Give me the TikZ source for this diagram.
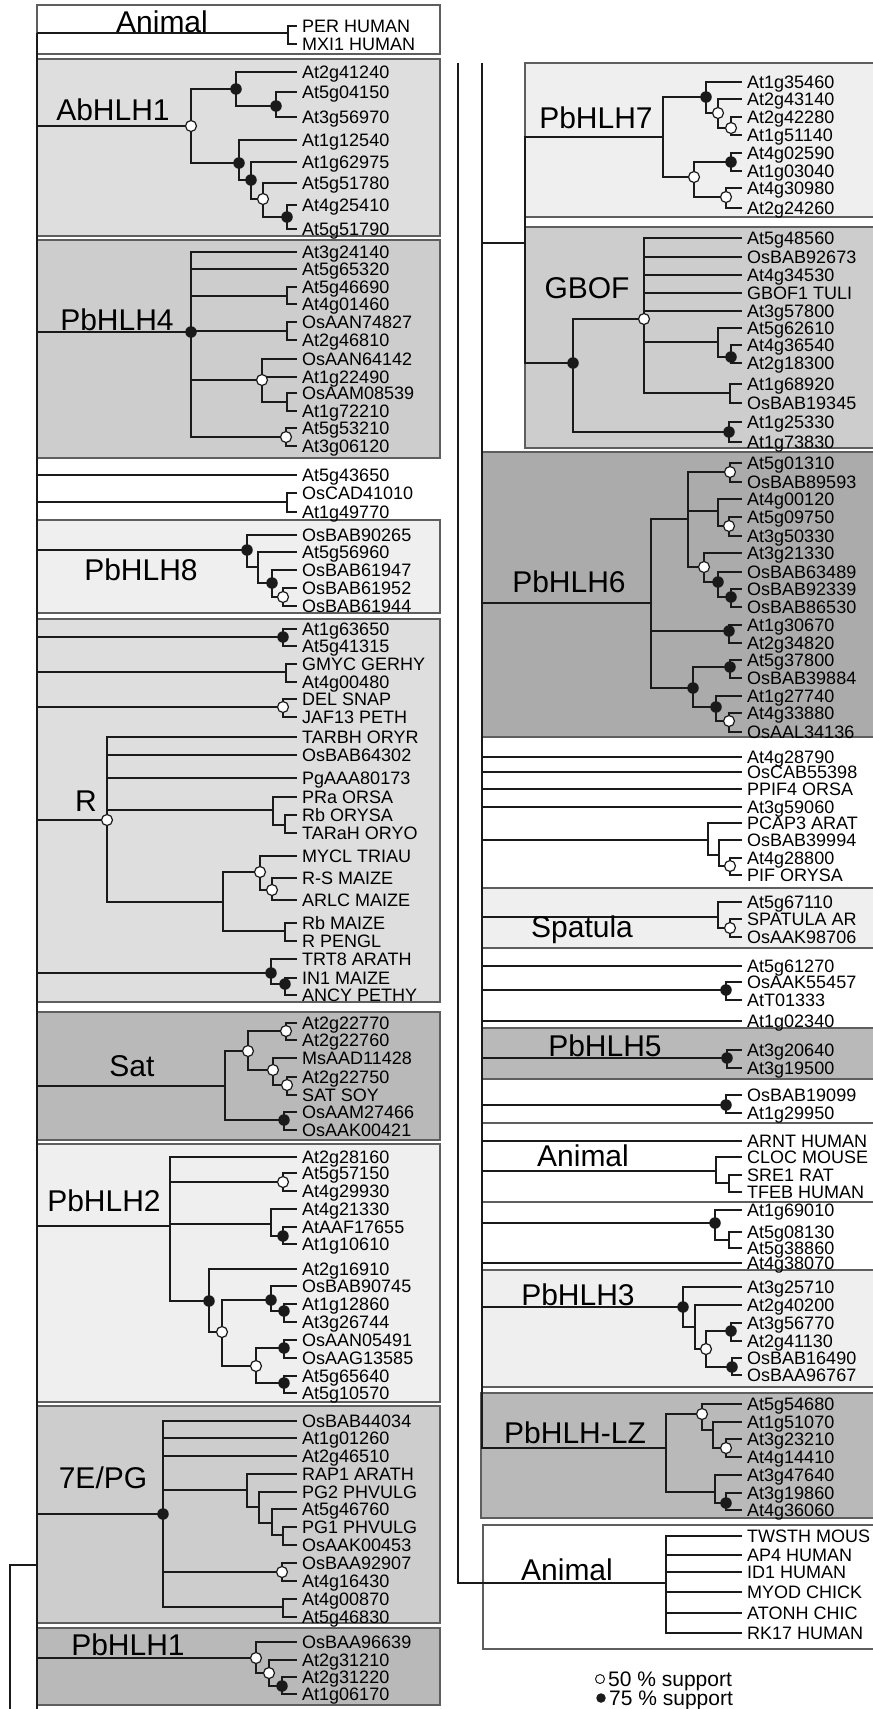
\documentclass[tikz,border=0pt]{standalone}
\usepackage{fontspec}
\setmainfont{Liberation Sans}
\usetikzlibrary{positioning}
\definecolor{BHLine}{HTML}{1A1A1A}
\definecolor{BHFrame}{HTML}{5E5E5E}
\definecolor{BHPale}{HTML}{EFEFEF}
\definecolor{BHLight}{HTML}{DEDEDE}
\definecolor{BHMid}{HTML}{CDCDCD}
\definecolor{BHDark}{HTML}{B9B9B9}
\definecolor{BHDeep}{HTML}{ABABAB}
\newcommand{\leaffont}{\fontsize{18}{18}\selectfont}
\newcommand{\cladefont}{\fontsize{30}{30}\selectfont}
\newcommand{\keyfont}{\fontsize{21}{21}\selectfont}
\tikzset{
branch/.style={line width=1.9pt, draw=BHLine},
joint/.style={inner sep=0pt, minimum size=0pt},
cladebox/.style={draw=BHFrame, line width=1.2pt},
leaflab/.style={anchor=west, inner xsep=5pt, inner ysep=0pt, text height=12.5pt,
  text depth=0pt, font=\leaffont},
cladelab/.style={anchor=base, inner sep=0pt, font=\cladefont},
keylab/.style={anchor=west, inner sep=0pt, text height=15pt, text depth=0pt, font=\keyfont},
sup50/.style={circle, draw=BHLine, fill=white, line width=1.2pt, minimum size=11pt, inner sep=0pt},
sup75/.style={circle, fill=BHLine, minimum size=11.5pt, inner sep=0pt}
}

\begin{document}
\begin{tikzpicture}[x=1pt, y=-1pt]
\useasboundingbox (0,0) rectangle (873,1709);
% clade boxes
\foreach \c/\xa/\ya/\xb/\yb in {white/37/5/440/54, BHLight/37/59/440/236, BHMid/37/240/440/458,
  BHPale/37/520/440/613, BHLight/37/619/440/1002, BHDark/37/1012/440/1140, BHPale/37/1144/440/1402,
  BHMid/37/1406/440/1623, BHDark/37/1628/440/1705,
  BHPale/525/63/876/217, BHMid/525/227/876/448, BHDeep/482/452/876/737, BHPale/482/888/876/948,
  BHDark/482/1028/876/1079, white/482/1123/876/1202, BHPale/482/1270/876/1387,
  BHDark/481/1393/876/1518, white/483/1525/876/1649}
\filldraw[cladebox, fill=\c] (\xa,\ya) rectangle (\xb,\yb);

% inner joints
\foreach \n/\x/\y in {Lsp/37/33, Lend/37/1709, Ljn/37/1565, rt/10/1709, an1/288/33,
  ab0/191/126, ab1/236/89, ab2/276/106, ab3/239/163, ab4/251/180, ab5/263/199, ab6/287/217,
  p4/191/332, p4a/287/296, p4b/287/331, p4c/262/380, p4d/287/402, p4e/286/437, sg1/287/502,
  p8/247/550, p8a/258/567, p8b/272/583, p8c/283/597,
  r1/283/637, r2/286/672, r3/283/707, r0/107/820, r4/273/810, r5/285/825, r6/223/902,
  r7/260/872, r8/272/890, r9/285/931, r10/271/973, r11/285/984,
  s0/225/1086, s1/248/1051, s2/286/1031, s3/273/1070, s5/287/1085, s4/284/1120,
  q0/170/1226, q1/283/1182, q2/271/1224, q3/283/1236, q4/209/1301, q5/222/1332, q6/271/1300,
  q7/284/1311, q8/256/1366, q9/284/1348, q10/284/1383,
  e0/163/1514, e1/247/1490, e2/259/1507, e3/272/1523, e6/283/1535, e4/282/1572, e5/283/1607,
  h0/256/1658, h1/269/1673, h2/282/1686}
\node[joint] (\n) at (\x,\y) {};
\foreach \n/\x/\y in {Rout/458/63, Rsp/482/63,
  pg/525/243, p7/663/137, p7a/706/97, p7b/718/113, p7c/731/128, p7d/694/177, p7e/731/162, p7f/726/197,
  gb/573/363, g1/644/319, g2/718/342, g5/731/357, g3/730/393, g4/729/432,
  x0/651/603, x1/688/519, x2/730/472, x3/718/511, x4/729/526, x5/704/567, x6/718/582, x12/731/597,
  x7/729/631, x8/693/688, x9/730/667, x10/716/707, x11/729/721,
  w1/708/840, w2/719/855, w3/730/866, sp/718/917, sp1/730/928, w5/726/990, p5/727/1058,
  w6/726/1105, am/716/1171, am1/729/1183, w7/715/1223, w8/729/1240,
  p3/683/1307, p3a/695/1327, p3b/706/1349, p3c/731/1331, p3d/732/1367,
  lz/666/1448, lz1/702/1414, lz2/713/1430, lz3/726/1448, lz4/715/1492, lz5/726/1503, an3/666/1583}
\node[joint] (\n) at (\x,\y) {};

% leaves, left column
\foreach \n/\y/\t in {L1/26/PER HUMAN, L2/44/MXI1 HUMAN,
  L3/72/At2g41240, L4/92/At5g04150, L5/117/At3g56970, L6/140/At1g12540, L7/162/At1g62975,
  L8/183/At5g51780, L9/205/At4g25410, L10/229/At5g51790,
  L11/252/At3g24140, L12/269/At5g65320, L13/287/At5g46690, L14/304/At4g01460, L15/322/OsAAN74827,
  L16/340/At2g46810, L17/359/OsAAN64142, L18/377/At1g22490, L19/393/OsAAM08539, L20/411/At1g72210,
  L21/428/At5g53210, L22/446/At3g06120,
  L23/475/At5g43650, L24/493/OsCAD41010, L25/512/At1g49770,
  L26/535/OsBAB90265, L27/552/At5g56960, L28/570/OsBAB61947, L29/588/OsBAB61952, L30/606/OsBAB61944,
  L31/629/At1g63650, L32/646/At5g41315, L33/664/GMYC GERHY, L34/682/At4g00480, L35/699/DEL SNAP,
  L36/717/JAF13 PETH, L37/737/TARBH ORYR, L38/755/OsBAB64302, L39/778/PgAAA80173, L40/797/PRa ORSA,
  L41/815/Rb ORYSA, L42/833/TARaH ORYO, L43/856/MYCL TRIAU, L44/878/R-S MAIZE, L45/900/ARLC MAIZE,
  L46/923/Rb MAIZE, L47/941/R PENGL, L48/959/TRT8 ARATH, L49/978/IN1 MAIZE, L50/995/ANCY PETHY,
  L51/1023/At2g22770, L52/1040/At2g22760, L53/1058/MsAAD11428, L54/1077/At2g22750, L55/1095/SAT SOY,
  L56/1112/OsAAM27466, L57/1130/OsAAK00421,
  L58/1157/At2g28160, L59/1173/At5g57150, L60/1191/At4g29930, L61/1209/At4g21330, L62/1227/AtAAF17655,
  L63/1244/At1g10610, L64/1269/At2g16910, L65/1286/OsBAB90745, L66/1304/At1g12860, L67/1322/At3g26744,
  L68/1340/OsAAN05491, L69/1358/OsAAG13585, L70/1376/At5g65640, L71/1393/At5g10570,
  L72/1421/OsBAB44034, L73/1438/At1g01260, L74/1456/At2g46510, L75/1474/RAP1 ARATH,
  L76/1492/PG2 PHVULG, L77/1509/At5g46760, L78/1527/PG1 PHVULG, L79/1545/OsAAK00453,
  L80/1563/OsBAA92907, L81/1581/At4g16430, L82/1599/At4g00870, L83/1617/At5g46830,
  L84/1642/OsBAA96639, L85/1660/At2g31210, L86/1677/At2g31220, L87/1694/At1g06170}
\node[leaflab] (\n) at (297,\y) {\t};
% leaves, right column
\foreach \n/\y/\t in {R1/82/At1g35460, R2/99/At2g43140, R3/117/At2g42280, R4/135/At1g51140,
  R5/153/At4g02590, R6/171/At1g03040, R7/188/At4g30980, R8/208/At2g24260,
  R9/238/At5g48560, R10/257/OsBAB92673, R11/275/At4g34530, R12/293/GBOF1 TULI, R13/311/At3g57800,
  R14/328/At5g62610, R15/345/At4g36540, R16/363/At2g18300, R17/384/At1g68920, R18/403/OsBAB19345,
  R19/422/At1g25330, R20/442/At1g73830,
  R21/463/At5g01310, R22/482/OsBAB89593, R23/499/At4g00120, R24/517/At5g09750, R25/536/At3g50330,
  R26/553/At3g21330, R27/572/OsBAB63489, R28/589/OsBAB92339, R29/607/OsBAB86530, R30/625/At1g30670,
  R31/643/At2g34820, R32/660/At5g37800, R33/678/OsBAB39884, R34/696/At1g27740, R35/713/At4g33880,
  R36/732/OsAAL34136,
  R37/757/At4g28790, R38/772/OsCAB55398, R39/789/PPIF4 ORSA, R40/807/At3g59060, R41/823/PCAP3 ARAT,
  R42/840/OsBAB39994, R43/858/At4g28800, R44/875/PIF ORYSA,
  R45/902/At5g67110, R46/919/SPATULA AR, R47/937/OsAAK98706,
  R48/966/At5g61270, R49/982/OsAAK55457, R50/1000/AtT01333, R51/1021/At1g02340,
  R52/1050/At3g20640, R53/1068/At3g19500, R54/1095/OsBAB19099, R55/1113/At1g29950,
  R56/1141/ARNT HUMAN, R57/1157/CLOC MOUSE, R58/1175/SRE1 RAT, R59/1192/TFEB HUMAN,
  R60/1210/At1g69010, R61/1232/At5g08130, R62/1248/At5g38860, R63/1263/At4g38070,
  R64/1287/At3g25710, R65/1305/At2g40200, R66/1323/At3g56770, R67/1341/At2g41130,
  R68/1358/OsBAB16490, R69/1375/OsBAA96767,
  R70/1404/At5g54680, R71/1422/At1g51070, R72/1439/At3g23210, R73/1457/At4g14410,
  R74/1475/At3g47640, R75/1493/At3g19860, R76/1510/At4g36060,
  R77/1536/TWSTH MOUS, R78/1555/AP4 HUMAN, R79/1572/ID1 HUMAN, R80/1592/MYOD CHICK,
  R81/1613/ATONH CHIC, R82/1633/RK17 HUMAN}
\node[leaflab] (\n) at (742,\y) {\t};

% branches
\draw[branch] (Lsp) -- (Lend);
\foreach \p/\kids in {rt/{Ljn}, Lsp/{an1,ab0,p4,L23,sg1,p8,r1,r2,r3,r0,r10,s0,q0,e0,h0},
  an1/{L1,L2}, ab0/{ab1,ab3}, ab1/{L3,ab2}, ab2/{L4,L5}, ab3/{L6,ab4}, ab4/{L7,ab5},
  ab5/{L8,ab6}, ab6/{L9,L10},
  p4/{L11,L12,p4a,p4b,p4c,p4e}, p4a/{L13,L14}, p4b/{L15,L16}, p4c/{L17,L18,p4d},
  p4d/{L19,L20}, p4e/{L21,L22}, sg1/{L24,L25},
  p8/{L26,p8a}, p8a/{L27,p8b}, p8b/{L28,p8c}, p8c/{L29,L30},
  r1/{L31,L32}, r2/{L33,L34}, r3/{L35,L36}, r0/{L37,L38,L39,r4,r6}, r4/{L40,r5}, r5/{L41,L42},
  r6/{r7,r9}, r7/{L43,r8}, r8/{L44,L45}, r9/{L46,L47}, r10/{L48,r11}, r11/{L49,L50},
  s0/{s1,s4}, s1/{s2,s3}, s2/{L51,L52}, s3/{L53,s5}, s5/{L54,L55}, s4/{L56,L57},
  q0/{L58,q1,q2,q4}, q1/{L59,L60}, q2/{L61,q3}, q3/{L62,L63}, q4/{L64,q5}, q5/{q6,q8},
  q6/{L65,q7}, q7/{L66,L67}, q8/{q9,q10}, q9/{L68,L69}, q10/{L70,L71},
  e0/{L72,L73,L74,e1,e4,e5}, e1/{L75,e2}, e2/{L76,e3}, e3/{L77,e6}, e6/{L78,L79},
  e4/{L80,L81}, e5/{L82,L83}, h0/{L84,h1}, h1/{L85,h2}, h2/{L86,L87},
  Rout/{an3}, Rsp/{pg,x0,R37,R38,R39,R40,w1,sp,R48,w5,R51,p5,w6,R56,am,w7,R63,p3,lz},
  pg/{p7,gb}, p7/{p7a,p7d}, p7a/{R1,p7b}, p7b/{R2,p7c}, p7c/{R3,R4}, p7d/{p7e,p7f},
  p7e/{R5,R6}, p7f/{R7,R8},
  gb/{g1,g4}, g1/{R9,R10,R11,R12,R13,g2,g3}, g2/{R14,g5}, g5/{R15,R16}, g3/{R17,R18}, g4/{R19,R20},
  x0/{x1,x7,x8}, x1/{x2,x3,x5}, x2/{R21,R22}, x3/{R23,x4}, x4/{R24,R25}, x5/{R26,x6},
  x6/{R27,x12}, x12/{R28,R29}, x7/{R30,R31}, x8/{x9,x10}, x9/{R32,R33}, x10/{R34,x11},
  x11/{R35,R36},
  w1/{R41,w2}, w2/{R42,w3}, w3/{R43,R44}, sp/{R45,sp1}, sp1/{R46,R47}, w5/{R49,R50},
  p5/{R52,R53}, w6/{R54,R55}, am/{R57,am1}, am1/{R58,R59}, w7/{R60,w8}, w8/{R61,R62},
  p3/{R64,p3a}, p3a/{R65,p3b}, p3b/{p3c,p3d}, p3c/{R66,R67}, p3d/{R68,R69},
  lz/{lz1,lz4}, lz1/{R70,lz2}, lz2/{R71,lz3}, lz3/{R72,R73}, lz4/{R74,lz5}, lz5/{R75,R76},
  an3/{R77,R78,R79,R80,R81,R82}}
\foreach \k in \kids \draw[branch] (\p) |- (\k.west);

% support values
\foreach \n in {ab0,ab5,p4c,p4e,p8c,r3,r0,r7,r8,s1,s2,s3,s5,q1,q5,q8,e4,h0,h1,
  p7b,p7c,p7d,p7f,g1,x2,x4,x5,x11,w3,sp1,p3b,lz1,lz3}
\node[sup50] (o\n) at (\n) {};
\foreach \n in {ab1,ab2,ab3,ab4,ab6,p4,p8,p8b,r1,r10,r11,s4,q3,q4,q6,q7,q9,q10,e0,h2,
  p7a,p7e,gb,g5,g4,x6,x12,x7,x8,x9,x10,w5,p5,w6,w7,p3,p3c,p3d,lz5}
\node[sup75] (f\n) at (\n) {};

% clade names
\foreach \n/\x/\y/\t in {cAn1/162/32/Animal, cAb/113/120/AbHLH1, cP4/117/330/PbHLH4,
  cP8/141/580/PbHLH8, cR/86/811/R, cSat/132/1076/Sat, cP2/104/1211/PbHLH2, cPG/103/1488/{7E/PG},
  cP1/128/1655/PbHLH1, cP7/596/128/PbHLH7, cGB/587/298/GBOF, cP6/569/592/PbHLH6,
  cSp/582/937/Spatula, cP5/605/1056/PbHLH5, cAn2/583/1166/Animal, cP3/578/1305/PbHLH3,
  cLZ/575/1443/PbHLH-LZ, cAn3/567/1580/Animal}
\node[cladelab] (\n) at (\x,\y) {\t};

% key
\node[sup50, minimum size=9pt, line width=1pt] (k50) at (600,1679) {};
\node[sup75, minimum size=9.5pt] (k75) at (601,1698) {};
\node[keylab, right=3pt of k50] (k50t) {50 \% support};
\node[keylab, right=3pt of k75] (k75t) {75 \% support};
\end{tikzpicture}
\end{document}
